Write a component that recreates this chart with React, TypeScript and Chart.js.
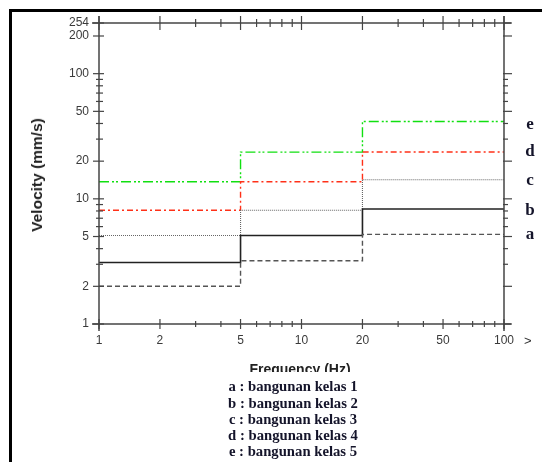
import React, { useEffect, useRef } from 'react';
import { Chart, registerables } from 'chart.js';

Chart.register(...registerables);

// Frequency band edges (Hz)
const freqBreaks = [1, 5, 20, 100];
// Velocity limits (mm/s) per band: 1-5, 5-20, 20-100 Hz
const classA = [2, 3.2, 5.2];
const classB = [3.1, 5.1, 8.3];
const classC = [5.1, 8.1, 14.2];
const classD = [8.1, 13.7, 23.7];
const classE = [13.7, 23.6, 41.5];

const xTickValues = [1, 2, 3, 4, 5, 6, 7, 8, 9, 10, 20, 30, 40, 50, 60, 70, 80, 90, 100];
const xLabelValues = [1, 2, 5, 10, 20, 50, 100];
const yTickValues = [1, 2, 3, 4, 5, 6, 7, 8, 9, 10, 20, 30, 40, 50, 60, 70, 80, 90, 100, 200, 254];
const yLabelValues = [1, 2, 5, 10, 20, 50, 100, 200, 254];

const seriesLetters = ['e', 'd', 'c', 'b', 'a'];
const legendTexts = [
  'a : bangunan kelas 1',
  'b : bangunan kelas 2',
  'c : bangunan kelas 3',
  'd : bangunan kelas 4',
  'e : bangunan kelas 5',
];

function stepPoints(vals: number[]) {
  const pts = vals.map((v, i) => ({ x: freqBreaks[i], y: v }));
  pts.push({ x: freqBreaks[freqBreaks.length - 1], y: vals[vals.length - 1] });
  return pts;
}

const axesPlugin = {
  id: 'crossAxes',
  afterDatasetsDraw(chart: any) {
    const { ctx, chartArea, scales } = chart;
    const { left, right, top, bottom } = chartArea;
    const x = scales.x;
    const y = scales.y;
    const line = (x1: number, y1: number, x2: number, y2: number) => {
      ctx.beginPath();
      ctx.moveTo(x1, y1);
      ctx.lineTo(x2, y2);
      ctx.stroke();
    };
    ctx.save();
    ctx.strokeStyle = '#444';
    ctx.lineWidth = 1.5;
    const ext = 7;
    line(left - ext, bottom, right + ext, bottom);
    line(left - ext, top, right + ext, top);
    line(left, top - ext, left, bottom + ext);
    line(right, top - ext, right, bottom + ext);
    ctx.lineWidth = 1.2;
    xTickValues.forEach((v) => {
      const px = x.getPixelForValue(v);
      const major = xLabelValues.includes(v);
      const a = major ? 5 : 3;
      line(px, bottom - a, px, bottom + a);
      line(px, top - (major ? 7 : 4), px, top + (major ? 7 : 4));
    });
    yTickValues.forEach((v) => {
      const py = y.getPixelForValue(v);
      const major = yLabelValues.includes(v);
      line(left - (major ? 6 : 3), py, left + (major ? 5 : 4), py);
      line(right - 1, py, right + (major ? 8 : 4), py);
    });
    ctx.restore();
  },
};

export default function App() {
  const canvasRef = useRef<HTMLCanvasElement | null>(null);

  useEffect(() => {
    const canvas = canvasRef.current;
    if (!canvas) return;
    const chart = new Chart(canvas, {
      type: 'line',
      data: {
        datasets: [
          { label: 'a', data: stepPoints(classA), borderColor: '#555', borderWidth: 1.4, borderDash: [5, 3] },
          { label: 'b', data: stepPoints(classB), borderColor: '#222', borderWidth: 1.6 },
          { label: 'c', data: stepPoints(classC), borderColor: '#666', borderWidth: 1.1, borderDash: [1, 1] },
          { label: 'd', data: stepPoints(classD), borderColor: '#ff3018', borderWidth: 1.4, borderDash: [6, 3, 2, 3] },
          { label: 'e', data: stepPoints(classE), borderColor: '#10e010', borderWidth: 1.4, borderDash: [10, 3, 2, 2, 2, 3] },
        ].map((d) => ({ ...d, stepped: true, pointRadius: 0, fill: false, tension: 0 })),
      },
      options: {
        animation: false,
        responsive: false,
        maintainAspectRatio: false,
        devicePixelRatio: 1,
        layout: { padding: { left: 0, top: 23, right: 38, bottom: 0 } },
        plugins: { legend: { display: false }, tooltip: { enabled: false }, title: { display: false } },
        scales: {
          x: {
            type: 'logarithmic',
            min: 1,
            max: 100,
            grid: { display: false, drawTicks: false },
            border: { display: false },
            afterBuildTicks: (scale: any) => {
              scale.ticks = xTickValues.map((v) => ({ value: v }));
            },
            afterFit: (scale: any) => {
              scale.height = 138;
            },
            ticks: {
              autoSkip: false,
              maxRotation: 0,
              padding: 9,
              color: '#3a3a3a',
              font: { family: 'Liberation Sans', size: 12 },
              callback: (v: any) => (xLabelValues.includes(Number(v)) ? String(v) : ''),
            },
          },
          y: {
            type: 'logarithmic',
            min: 1,
            max: 254,
            grid: { display: false, drawTicks: false },
            border: { display: false },
            afterBuildTicks: (scale: any) => {
              scale.ticks = yTickValues.map((v) => ({ value: v }));
            },
            afterFit: (scale: any) => {
              scale.width = 99;
            },
            ticks: {
              autoSkip: false,
              padding: 10,
              color: '#3a3a3a',
              font: { family: 'Liberation Sans', size: 12 },
              callback: (v: any) => (yLabelValues.includes(Number(v)) ? String(v) : ''),
            },
          },
        },
      },
      plugins: [axesPlugin],
    } as any);
    return () => chart.destroy();
  }, []);

  const letterBaselines = [129.3, 156.7, 185.3, 215.7, 239.3];

  return (
    <div style={{ position: 'fixed', left: 0, top: 0, width: 542, height: 462, background: '#fff', overflow: 'hidden' }}>
      <div
        style={{
          position: 'absolute',
          left: 9,
          top: 9,
          right: 0,
          bottom: 0,
          borderLeft: '3px solid #000',
          borderTop: '3px solid #000',
        }}
      />
      <canvas ref={canvasRef} width={542} height={462} style={{ position: 'absolute', left: 0, top: 0 }} />
      <div
        style={{
          position: 'absolute',
          left: 37,
          top: 175,
          transform: 'translate(-50%, -50%) rotate(-90deg)',
          whiteSpace: 'nowrap',
          font: 'bold 15.5px "Liberation Sans"',
          color: '#222',
        }}
      >
        Velocity (mm/s)
      </div>
      <div
        style={{
          position: 'absolute',
          left: 200,
          width: 200,
          top: 361,
          height: 11,
          overflow: 'hidden',
          textAlign: 'center',
          font: 'bold 14px "Liberation Sans"',
          lineHeight: '16px',
          color: '#222',
        }}
      >
        Frequency (Hz)
      </div>
      <div
        style={{
          position: 'absolute',
          left: 524,
          top: 334,
          font: '13px "Liberation Sans"',
          color: '#333',
          lineHeight: '14px',
        }}
      >
        &gt;
      </div>
      {seriesLetters.map((l, i) => (
        <div
          key={l}
          style={{
            position: 'absolute',
            left: 520,
            width: 20,
            textAlign: 'center',
            top: letterBaselines[i] - 14.25,
            font: 'bold 17px "Liberation Serif"',
            lineHeight: '17px',
            color: '#14142a',
          }}
        >
          {l}
        </div>
      ))}
      <div
        style={{
          position: 'absolute',
          left: 183,
          width: 220,
          top: 378.4,
          textAlign: 'center',
          font: 'bold 14.7px "Liberation Serif"',
          lineHeight: '16.25px',
          color: '#14142a',
        }}
      >
        {legendTexts.map((t) => (
          <div key={t}>{t}</div>
        ))}
      </div>
    </div>
  );
}
